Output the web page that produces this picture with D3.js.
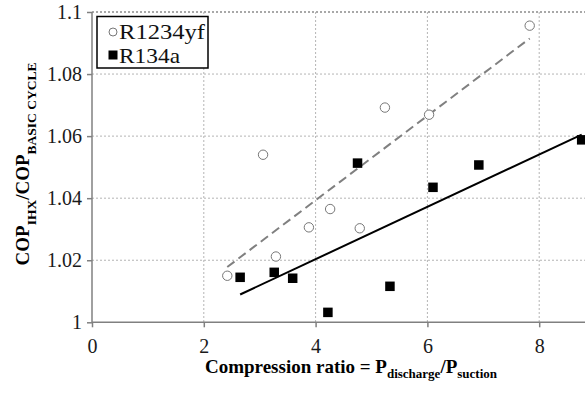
<!DOCTYPE html>
<html><head><meta charset="utf-8">
<script src="https://cdn.jsdelivr.net/npm/d3@7"></script>
<style>
body{margin:0;background:#fff}
svg{display:block}
</style>
</head><body>
<svg id="chart" width="585" height="393"></svg>
<script>
// Measured COP ratio (with internal heat exchanger / basic cycle) vs compression ratio
const seriesNames = ["R1234yf", "R134a"];
const r1234yfX = [2.42, 3.29, 3.06, 3.88, 4.26, 4.79, 5.24, 6.03, 7.83];
const r1234yfY = [1.015, 1.0212, 1.054, 1.0306, 1.0365, 1.0303, 1.0692, 1.0669, 1.0956];
const r134aX = [2.65, 3.26, 3.59, 4.22, 4.75, 5.33, 6.10, 6.92, 8.76];
const r134aY = [1.0145, 1.0161, 1.0142, 1.0032, 1.0513, 1.0116, 1.0435, 1.0507, 1.0588];

const xTicks = [0, 2, 4, 6, 8];
const xTickLabels = ["0", "2", "4", "6", "8"];
const yTicks = [1, 1.02, 1.04, 1.06, 1.08, 1.1];
const yTickLabels = ["1", "1.02", "1.04", "1.06", "1.08", "1.1"];

const FONT = "Liberation Serif";
const svg = d3.select("#chart").attr("font-family", FONT);
const W = 585, H = 393;
const plotLeft = 92, plotTop = 12, plotBottom = 322.3;

const x = d3.scaleLinear().domain([0, 10]).range([plotLeft, plotLeft + 10 * 55.9]);
const y = d3.scaleLinear().domain([1, 1.1]).range([plotBottom, plotTop]);

svg.append("rect").attr("width", W).attr("height", H).attr("fill", "#fff");

// gridlines
const grid = svg.append("g");
grid.selectAll("line.h").data(yTicks.slice(1)).join("line")
  .attr("x1", plotLeft).attr("x2", W)
  .attr("y1", d => y(d)).attr("y2", d => y(d))
  .attr("stroke", (d, i, a) => i === a.length - 1 ? "#8c8c8c" : "#b4b4b4")
  .attr("stroke-width", (d, i, a) => i === a.length - 1 ? 1.5 : 1)
  .attr("stroke-dasharray", "2,2");
grid.selectAll("line.v").data(xTicks.slice(1)).join("line")
  .attr("x1", d => x(d)).attr("x2", d => x(d))
  .attr("y1", plotTop).attr("y2", plotBottom)
  .attr("stroke", "#b4b4b4").attr("stroke-width", 1)
  .attr("stroke-dasharray", "2,2");

// axes
const xAxis = d3.axisBottom(x).tickValues(xTicks)
  .tickFormat((d, i) => xTickLabels[i]).tickSize(5).tickPadding(12).tickSizeOuter(0);
const yAxis = d3.axisLeft(y).tickValues(yTicks)
  .tickFormat((d, i) => yTickLabels[i]).tickSize(5).tickPadding(5).tickSizeOuter(0);

const gx = svg.append("g").attr("transform", `translate(0,${plotBottom})`).call(xAxis);
const gy = svg.append("g").attr("transform", `translate(${plotLeft},0)`).call(yAxis);
[gx, gy].forEach(g => {
  g.attr("font-family", FONT).attr("font-size", 20);
  g.select(".domain").attr("stroke", "#808080").attr("stroke-width", 1.5);
  g.selectAll(".tick line").attr("stroke", "#808080").attr("stroke-width", 1.5);
  g.selectAll(".tick text").attr("fill", "#1a1a1a");
});
gx.select(".domain").attr("d", `M${plotLeft},0H${W}`);
gy.select(".domain").attr("d", `M0,${plotBottom}V${plotTop}`);

// least-squares trend line over a series, drawn between its extreme x values
function fit(xs, ys) {
  const mx = d3.mean(xs), my = d3.mean(ys);
  const sxy = d3.sum(xs, (v, i) => (v - mx) * (ys[i] - my));
  const sxx = d3.sum(xs, v => (v - mx) * (v - mx));
  const b = sxy / sxx, a = my - b * mx;
  const [x0, x1] = d3.extent(xs);
  return [[x0, a + b * x0], [x1, a + b * x1]];
}
const line = d3.line().x(d => x(d[0])).y(d => y(d[1]));

svg.append("path").attr("d", line(fit(r1234yfX, r1234yfY)))
  .attr("fill", "none").attr("stroke", "#808080").attr("stroke-width", 2)
  .attr("stroke-dasharray", "9,5");
svg.append("path").attr("d", line(fit(r134aX, r134aY)))
  .attr("fill", "none").attr("stroke", "#000").attr("stroke-width", 2);

// markers
const sq = 9.5;
svg.append("g").selectAll("rect").data(r134aX.map((v, i) => [v, r134aY[i]])).join("rect")
  .attr("x", d => x(d[0]) - sq / 2).attr("y", d => y(d[1]) - sq / 2)
  .attr("width", sq).attr("height", sq).attr("fill", "#000");
svg.append("g").selectAll("circle").data(r1234yfX.map((v, i) => [v, r1234yfY[i]])).join("circle")
  .attr("cx", d => x(d[0])).attr("cy", d => y(d[1])).attr("r", 4.7)
  .attr("fill", "#fff").attr("stroke", "#777").attr("stroke-width", 1);

// legend
const lg = svg.append("g");
lg.append("rect").attr("x", 97).attr("y", 16.5).attr("width", 111).attr("height", 51.5)
  .attr("fill", "#fff").attr("stroke", "#000").attr("stroke-width", 1.5);
lg.append("circle").attr("cx", 113).attr("cy", 32).attr("r", 4)
  .attr("fill", "#fff").attr("stroke", "#777").attr("stroke-width", 1);
lg.append("rect").attr("x", 113 - 4.5).attr("y", 55 - 4.5).attr("width", 9).attr("height", 9)
  .attr("fill", "#000");
lg.selectAll("text").data(seriesNames).join("text")
  .attr("x", 119).attr("y", (d, i) => 39 + i * 24)
  .attr("textLength", (d, i) => i === 0 ? 86 : 61).attr("lengthAdjust", "spacingAndGlyphs")
  .attr("font-family", FONT).attr("font-size", 21).attr("fill", "#111").text(d => d);

// axis titles with subscripts
const xt = svg.append("text").attr("x", 351).attr("y", 373).attr("text-anchor", "middle")
  .attr("font-family", FONT).attr("font-weight", "bold").attr("font-size", 19).attr("fill", "#000");
xt.append("tspan").text("Compression ratio = P");
xt.append("tspan").attr("dy", 5).attr("font-size", 13).text("discharge");
xt.append("tspan").attr("dy", -5).text("/P");
xt.append("tspan").attr("dy", 5).attr("font-size", 13).text("suction");

const yt = svg.append("text").attr("transform", "translate(29,164) rotate(-90)")
  .attr("text-anchor", "middle").attr("font-family", FONT).attr("font-weight", "bold")
  .attr("font-size", 19).attr("fill", "#000");
yt.append("tspan").text("COP");
yt.append("tspan").attr("dy", 7).attr("font-size", 13.5).text("IHX");
yt.append("tspan").attr("dy", -7).text("/COP");
yt.append("tspan").attr("dy", 7).attr("font-size", 13.5).text("BASIC CYCLE");
</script>
</body></html>
